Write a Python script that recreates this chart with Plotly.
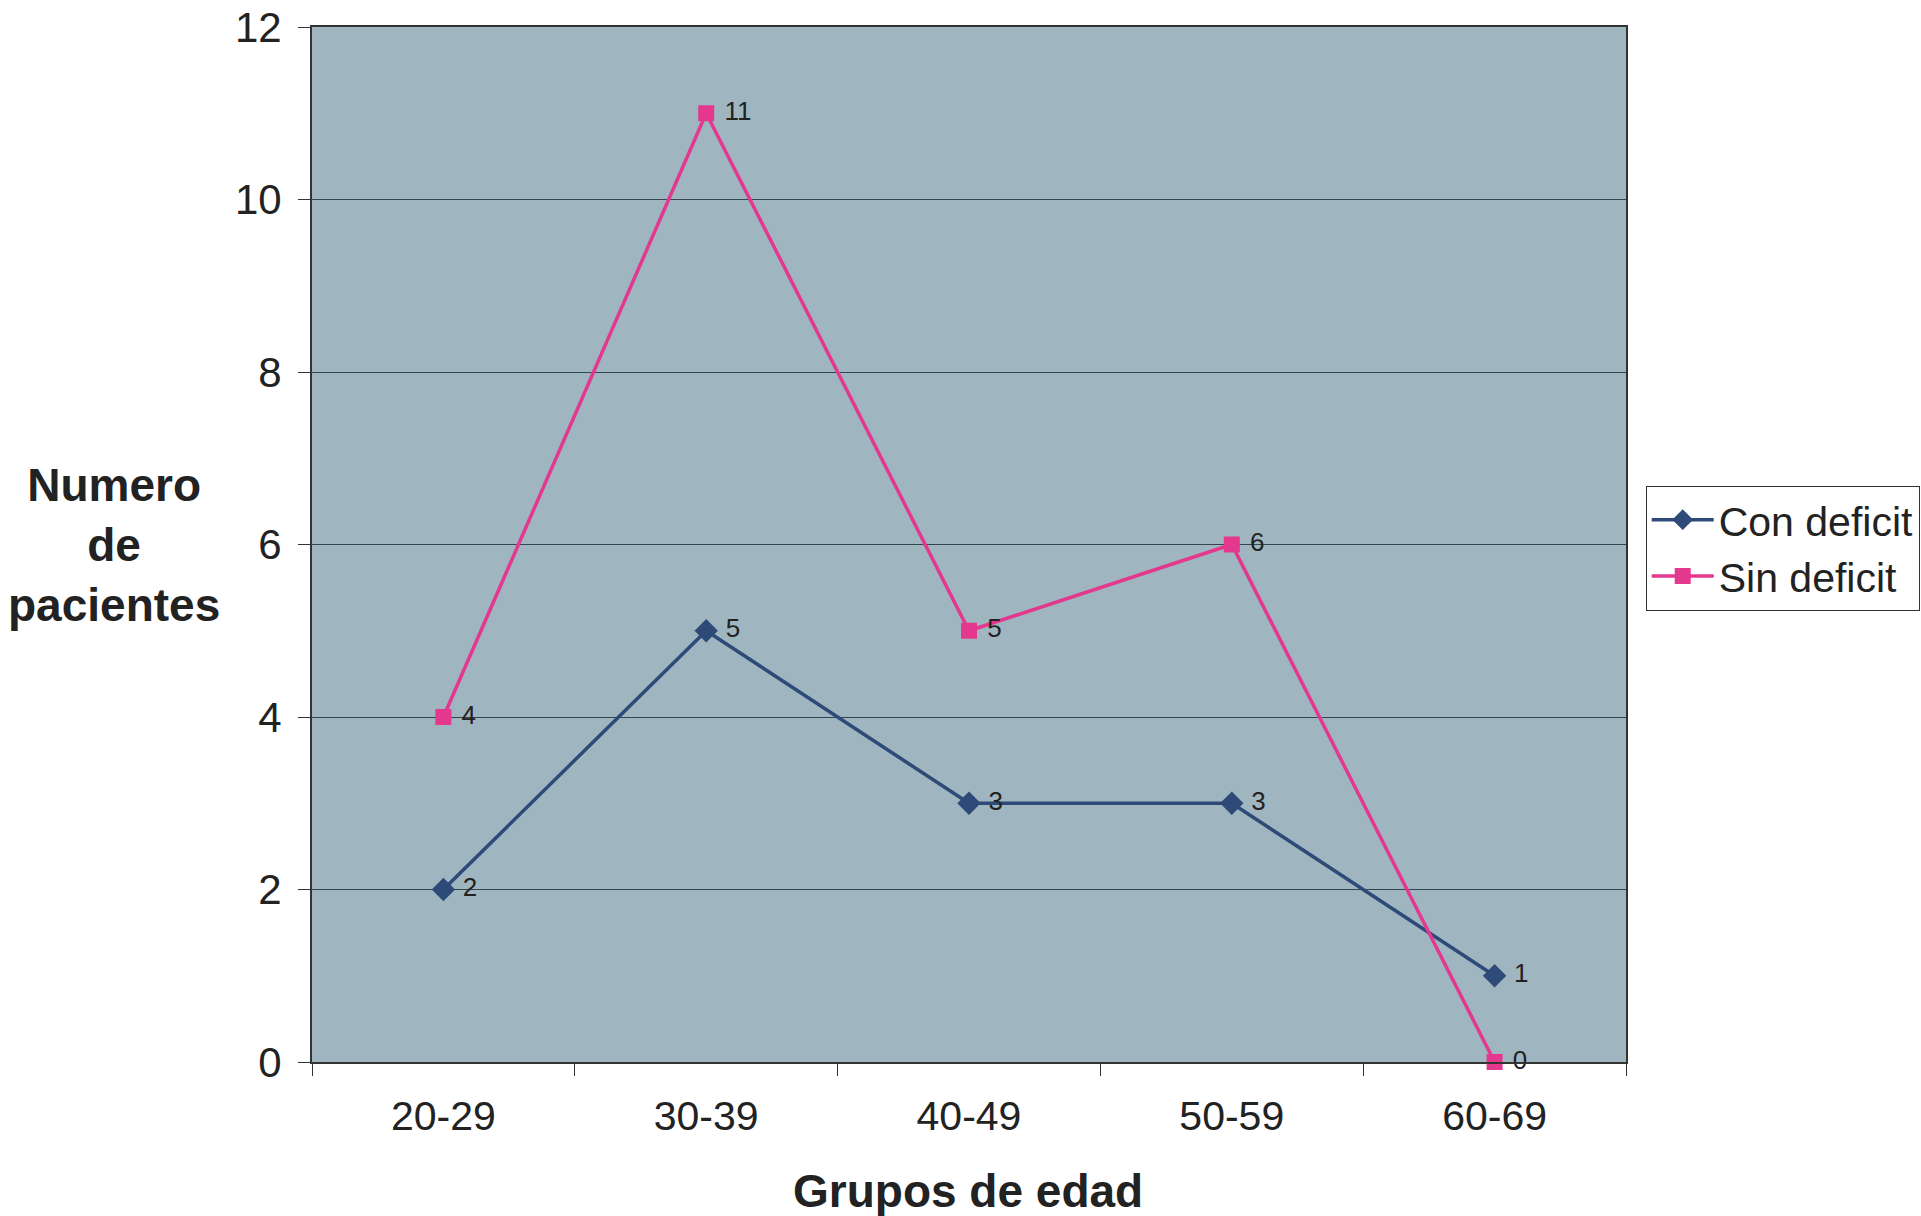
import plotly.graph_objects as go

categories = ["20-29", "30-39", "40-49", "50-59", "60-69"]
con_deficit = [2, 5, 3, 3, 1]
sin_deficit = [4, 11, 5, 6, 0]
y_ticks = [0, 2, 4, 6, 8, 10, 12]

FONT = "Liberation Sans, Arial, sans-serif"
BLUE = "#2e4a78"
PINK = "#e4388e"

fig = go.Figure()
fig.add_trace(go.Scatter(
    x=categories, y=con_deficit, name="Con deficit",
    mode="lines+markers+text",
    line=dict(color=BLUE, width=3.5),
    marker=dict(symbol="diamond", size=18, color=BLUE),
    text=[" " + str(v) for v in con_deficit], textposition="middle right",
    textfont=dict(family=FONT, size=26, color="#222222"),
    cliponaxis=False,
))
fig.add_trace(go.Scatter(
    x=categories, y=sin_deficit, name="Sin deficit",
    mode="lines+markers+text",
    line=dict(color=PINK, width=3.5),
    marker=dict(symbol="square", size=16, color=PINK),
    text=[" " + str(v) for v in sin_deficit], textposition="middle right",
    textfont=dict(family=FONT, size=26, color="#222222"),
    cliponaxis=False,
))

fig.update_layout(
    width=1921, height=1216,
    margin=dict(l=312, r=295, t=27, b=154, autoexpand=False),
    paper_bgcolor="white",
    plot_bgcolor="#9fb6c0",
    font=dict(family=FONT, color="#222222"),
    showlegend=True,
    legend=dict(
        x=1.015, y=0.557, xanchor="left", yanchor="top",
        bgcolor="white", bordercolor="#333333", borderwidth=1,
        font=dict(family=FONT, size=41, color="#222222"),
        tracegroupgap=0, itemwidth=62,
    ),
)
fig.update_xaxes(
    type="category", tickson="boundaries", automargin=False,
    ticks="outside", ticklen=12, tickcolor="#333333",
    showline=True, linecolor="#333333", linewidth=2, mirror=True,
    showgrid=False,
    tickfont=dict(family=FONT, size=41, color="#222222"),
    ticklabelstandoff=17,
    range=[-0.5, 4.5],
)
fig.update_yaxes(
    range=[0, 12], tickvals=y_ticks, automargin=False,
    ticks="outside", ticklen=12, tickcolor="#333333",
    showline=True, linecolor="#333333", linewidth=2, mirror=True,
    showgrid=True, gridcolor="#35454d", gridwidth=1,
    zeroline=False,
    tickfont=dict(family=FONT, size=42, color="#222222"),
    ticklabelstandoff=8,
)

fig.add_annotation(
    text="<b>Numero<br>de<br>pacientes</b>", xref="paper", yref="paper",
    x=(114 - 312) / 1314, y=(1062 - 545) / 1034, xanchor="center", yanchor="middle",
    showarrow=False, align="center",
    font=dict(family=FONT, size=46, color="#222222"),
)
fig.add_annotation(
    text="<b>Grupos de edad</b>", xref="paper", yref="paper",
    x=(968 - 312) / 1314, y=(1062 - 1191) / 1034, xanchor="center", yanchor="middle",
    showarrow=False,
    font=dict(family=FONT, size=46, color="#222222"),
)

fig.write_html("out.html")
